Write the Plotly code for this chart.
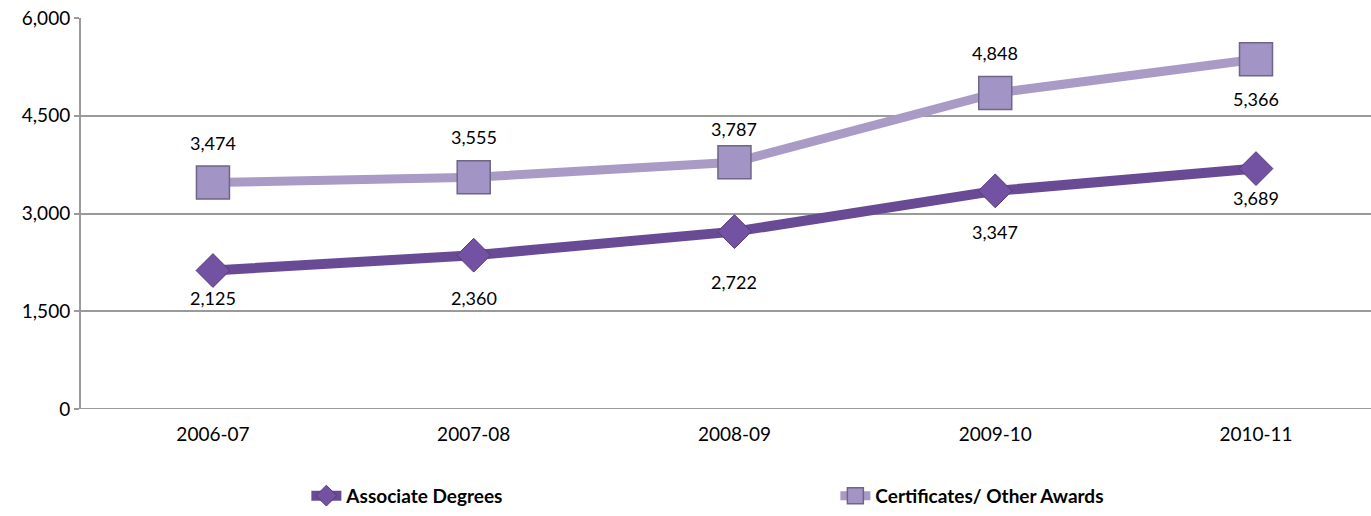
import plotly.graph_objects as go

# Awards conferred per academic year
years = ["2006-07", "2007-08", "2008-09", "2009-10", "2010-11"]
associate = [2125, 2360, 2722, 3347, 3689]
certificates = [3474, 3555, 3787, 4848, 5366]
y_ticks = [0, 1500, 3000, 4500, 6000]

# vertical offset (px) of each value label from its marker
assoc_label_shift = [-27, -43, -50, -41, -29]
cert_label_shift = [40, 40, 33, 40, -40]

FONT = "Lato"
x_pos = list(range(len(years)))

fig = go.Figure()
fig.add_trace(go.Scatter(
    x=x_pos, y=associate, name="Associate Degrees",
    mode="lines+markers",
    line=dict(color="#684B94", width=10),
    marker=dict(symbol="diamond", size=26, color="#7352A3",
                line=dict(color="#56397E", width=1)),
))
fig.add_trace(go.Scatter(
    x=x_pos, y=certificates, name="Certificates/ Other Awards",
    mode="lines+markers",
    line=dict(color="#A99BC6", width=9),
    marker=dict(symbol="square", size=33, color="#A394C6",
                line=dict(color="#6F6587", width=1.5)),
))

annotations = []
for xs, vals, shifts in ((x_pos, associate, assoc_label_shift),
                         (x_pos, certificates, cert_label_shift)):
    for x, v, s in zip(xs, vals, shifts):
        annotations.append(dict(
            x=x, y=v, xref="x", yref="y", text=f"{v:,}", showarrow=False,
            yshift=s, font=dict(family=FONT, size=18, color="#000000"),
        ))

fig.update_layout(
    width=1371, height=516,
    margin=dict(l=81, r=0, t=18, b=107),
    paper_bgcolor="white", plot_bgcolor="white",
    font=dict(family=FONT, size=18, color="#000000"),
    annotations=annotations,
    showlegend=True,
    legend=dict(
        orientation="h", x=0.1747, xanchor="left", y=-0.222, yanchor="middle",
        entrywidth=484, entrywidthmode="pixels",
        font=dict(family=FONT, size=19, color="#000000", weight="bold"),
        bgcolor="rgba(0,0,0,0)", traceorder="normal",
    ),
    xaxis=dict(
        tickvals=x_pos, ticktext=years,
        range=[-0.506, 4.441],
        showgrid=False, zeroline=False, showline=False,
        ticks="", ticklabelstandoff=12,
        tickfont=dict(family=FONT, size=19),
    ),
    yaxis=dict(
        range=[0, 6000], tickvals=y_ticks,
        ticktext=[f"{t:,}" for t in y_ticks],
        showgrid=True, gridcolor="#9A9A9A", gridwidth=2,
        zeroline=False, showline=True, linecolor="#9A9A9A", linewidth=2,
        ticks="outside", ticklen=5, tickcolor="#9A9A9A", tickwidth=2,
        tickfont=dict(family=FONT, size=19),
    ),
)
# baseline along the category axis
fig.add_shape(type="line", xref="paper", yref="y", x0=0, x1=1, y0=0, y1=0,
              line=dict(color="#9A9A9A", width=2), layer="below")

fig.write_html("out.html")
